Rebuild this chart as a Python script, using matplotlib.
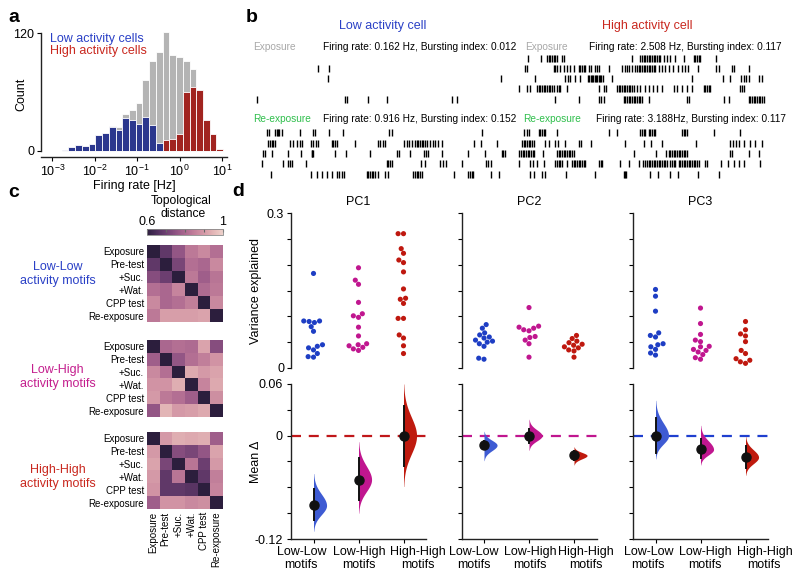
import numpy as np
import pandas as pd
import matplotlib
matplotlib.use('Agg')
import matplotlib.pyplot as plt
from matplotlib.ticker import NullLocator
import seaborn as sns

plt.rcParams['font.family'] = ['Liberation Sans', 'DejaVu Sans']
plt.rcParams['mathtext.fontset'] = 'custom'
plt.rcParams['mathtext.rm'] = 'Liberation Sans'
plt.rcParams['axes.linewidth'] = 1.0
plt.rcParams['axes.edgecolor'] = '#222222'

# ---------------- data ----------------
# a: firing rate histogram (log10 bin edges, counts)
log_edges = np.linspace(-2.78, 1.03, 25)
hist_total = [1, 4, 6, 5, 7, 16, 18, 25, 24, 38, 42, 49, 72, 92, 101, 121, 98, 96, 92, 83, 62, 32, 17, 2]
hist_low = [1, 4, 6, 5, 7, 16, 18, 24, 21, 34, 32, 27, 35, 26, 8, 0, 0, 0, 0, 0, 0, 0, 0, 0]
hist_high = [0, 0, 0, 0, 0, 0, 0, 0, 0, 0, 0, 0, 0, 0, 0, 11, 12, 17, 60, 65, 62, 32, 17, 2]

# b: spike rasters (time in 0.1 s units), 5 trials per session
low_exposure = [
    [],
    [205, 237],
    [235, 752],
    [],
    [22, 285, 292, 355, 412, 605, 622],
]
low_reexposure = [
    [52, 57, 76, 80, 84, 88, 95, 150, 188, 194, 238, 278, 416, 427, 697],
    [55, 60, 65, 70, 75, 120, 130, 142, 150, 157, 183, 190, 197, 203, 245, 250, 255, 260, 315,
     383, 390, 398, 405, 462, 470, 478, 486, 494, 500, 505, 510, 515, 520, 525, 530, 540, 548,
     555, 565, 577, 672, 693, 742],
    [38, 45, 65, 115, 152, 185, 187, 190, 255, 288, 360, 440, 447, 480, 522, 528, 535, 575, 655,
     705, 755, 760, 765],
    [35, 98, 115, 120, 125, 168, 410, 415, 420, 425, 512, 525, 570, 580, 587, 635, 708, 715, 722],
    [62, 182, 200, 215, 230, 245, 262, 268, 275, 282, 350, 355, 360, 365, 370, 375, 385, 405, 415,
     490, 495, 500, 505, 510, 515, 612, 655, 660, 665, 670, 722, 748],
]
high_exposure = [
    [48, 88, 105, 110, 115, 120, 125, 130, 135, 150, 155, 360, 385, 390, 395, 400, 405, 410, 415,
     420, 425, 430, 435, 440, 445, 455, 465, 475, 490, 515, 545, 550, 555, 560, 565, 612],
    [38, 45, 125, 130, 135, 145, 155, 165, 175, 185, 200, 205, 210, 215, 220, 232, 237, 248, 255,
     262, 290, 330, 338, 345, 352, 360, 368, 375, 380, 385, 390, 395, 400, 405, 410, 415, 420,
     425, 430, 440, 450, 460, 470, 483, 497, 510, 520, 527, 557, 612, 622, 660, 665, 710],
    [70, 160, 168, 175, 188, 205, 228, 232, 236, 240, 244, 248, 252, 256, 260, 264, 268, 272, 300,
     540, 632, 655, 688, 695, 702, 710, 740, 750],
    [22, 45, 55, 75, 80, 85, 90, 95, 100, 105, 110, 115, 120, 125, 135, 140, 145, 165, 262, 275,
     282, 315, 320, 325, 330, 335, 340, 345, 350, 355, 360, 365, 375, 385, 400, 410, 423, 435,
     450, 487, 495, 510, 525, 540, 575, 580, 585, 590, 595, 683, 690, 697],
    [128, 200, 262, 268, 275, 335, 340, 345, 350, 355, 360, 365, 370, 375, 380, 385, 390, 410,
     525, 530, 635, 650, 710, 715, 720, 725, 730, 735, 740, 745, 750, 755],
]
high_reexposure = [
    [35, 45, 52, 80, 85, 90, 95, 100, 135, 290, 315, 385, 390, 395, 400, 410, 415, 420, 425, 430,
     510, 515, 520, 525, 605, 685],
    [30, 35, 40, 45, 50, 55, 60, 65, 100, 110, 130, 138, 160, 200, 207, 238, 340, 397, 418, 450,
     553, 655, 663, 672, 680, 695, 715, 730, 750],
    [22, 27, 32, 37, 42, 47, 52, 57, 62, 67, 92, 135, 140, 145, 150, 155, 160, 165, 170, 175, 180,
     185, 365, 432, 462, 470, 475, 480, 485, 490, 495, 500, 505, 510, 515, 520, 525, 655, 660,
     710, 740],
    [20, 55, 62, 75, 95, 130, 135, 140, 145, 150, 165, 180, 185, 190, 195, 200, 205, 210, 215, 220,
     262, 266, 270, 325, 350, 380, 392, 398, 404, 410, 415, 420, 425, 430, 435, 440, 445, 450,
     455, 460, 465, 475, 480, 485, 490, 500, 505, 510, 515, 520, 525, 530, 535, 540, 545, 550,
     555, 560, 578, 585, 628, 648, 665, 680, 695, 745],
    [55, 65, 90, 100, 162, 250, 335, 338, 342, 415, 438, 475, 498, 558, 622],
]

# c: topological distance matrices
sessions = ['Exposure', 'Pre-test', '+Suc.', '+Wat.', 'CPP test', 'Re-exposure']
dist_low_low = [
    [0.60, 0.68, 0.76, 0.84, 0.87, 0.82],
    [0.68, 0.60, 0.72, 0.82, 0.80, 0.87],
    [0.74, 0.70, 0.60, 0.84, 0.78, 0.83],
    [0.82, 0.80, 0.86, 0.60, 0.81, 0.84],
    [0.87, 0.80, 0.82, 0.85, 0.60, 0.87],
    [0.84, 0.91, 0.91, 0.91, 0.92, 0.60],
]
dist_low_high = [
    [0.60, 0.80, 0.82, 0.81, 0.92, 0.74],
    [0.78, 0.60, 0.76, 0.82, 0.85, 0.89],
    [0.87, 0.82, 0.60, 0.93, 0.90, 0.92],
    [0.89, 0.89, 0.94, 0.60, 0.86, 0.93],
    [0.90, 0.84, 0.82, 0.78, 0.60, 0.88],
    [0.76, 0.95, 0.90, 0.91, 0.93, 0.60],
]
dist_high_high = [
    [0.60, 0.90, 0.94, 0.93, 0.94, 0.78],
    [0.90, 0.60, 0.74, 0.72, 0.76, 0.92],
    [0.92, 0.72, 0.60, 0.83, 0.70, 0.90],
    [0.90, 0.68, 0.83, 0.60, 0.68, 0.85],
    [0.89, 0.68, 0.68, 0.67, 0.60, 0.86],
    [0.78, 0.89, 0.89, 0.87, 0.88, 0.60],
]

# d: variance explained per motif group
groups = ['Low-Low', 'Low-High', 'High-High']
var_pc1_ll = [0.183, 0.091, 0.091, 0.090, 0.088, 0.080, 0.071, 0.045, 0.042, 0.039, 0.035, 0.028, 0.022, 0.021]
var_pc1_lh = [0.194, 0.170, 0.162, 0.127, 0.105, 0.101, 0.098, 0.079, 0.062, 0.047, 0.045, 0.043, 0.040, 0.037, 0.034]
var_pc1_hh = [0.260, 0.260, 0.231, 0.222, 0.209, 0.204, 0.186, 0.153, 0.135, 0.133, 0.125, 0.096, 0.096,
              0.064, 0.058, 0.043, 0.028]
var_pc2_ll = [0.084, 0.077, 0.068, 0.064, 0.060, 0.058, 0.054, 0.052, 0.050, 0.047, 0.042, 0.019, 0.017]
var_pc2_lh = [0.117, 0.081, 0.079, 0.077, 0.074, 0.072, 0.061, 0.059, 0.054, 0.047, 0.021]
var_pc2_hh = [0.063, 0.057, 0.052, 0.049, 0.046, 0.044, 0.041, 0.039, 0.035, 0.033, 0.021]
var_pc3_ll = [0.152, 0.139, 0.110, 0.068, 0.063, 0.060, 0.047, 0.045, 0.041, 0.036, 0.029, 0.025]
var_pc3_lh = [0.116, 0.086, 0.065, 0.054, 0.051, 0.042, 0.041, 0.036, 0.034, 0.031, 0.026, 0.020, 0.017]
var_pc3_hh = [0.090, 0.074, 0.066, 0.062, 0.051, 0.034, 0.028, 0.018, 0.015, 0.012, 0.009]

# d: mean difference (mean, ci low, ci high, dist low, dist high)
delta_pc1 = [(-0.081, -0.098, -0.062, -0.111, -0.044),
             (-0.051, -0.075, -0.026, -0.090, -0.007),
             (0.000, -0.035, 0.035, -0.059, 0.060)]
delta_pc2 = [(-0.011, -0.016, -0.006, -0.029, 0.005),
             (0.000, -0.008, 0.008, -0.017, 0.019),
             (-0.023, -0.028, -0.018, -0.034, -0.013)]
delta_pc3 = [(0.000, -0.020, 0.020, -0.027, 0.041),
             (-0.016, -0.026, -0.004, -0.034, 0.012),
             (-0.025, -0.037, -0.012, -0.046, -0.001)]

# ---------------- figure ----------------
W, H = 800, 581
fig = plt.figure(figsize=(W / 100, H / 100), dpi=100)


def px_axes(l, t, r, b):
    return fig.add_axes([l / W, 1 - b / H, (r - l) / W, (b - t) / H])


def ftext(x, y, s, **kw):
    return fig.text(x / W, 1 - y / H, s, **kw)


BLUE_T = '#2a40c6'
MAG_T = '#c41f8e'
RED_T = '#c9281f'
GREEN = '#2fbf4c'
GRAY_T = '#a8a8a8'

# panel letters
for letter, x, y in [('a', 8, 22), ('b', 246, 22), ('c', 8, 197), ('d', 232, 196)]:
    ftext(x, y, letter, fontsize=14, fontweight='bold', va='baseline')

# ---- a ----
ax = px_axes(41, 33, 227, 151)
edges = 10 ** log_edges
widths = edges[1:] - edges[:-1]
ax.bar(edges[:-1], hist_total, width=widths, align='edge', color='#b4b4b4', edgecolor='white', linewidth=0.6,
       clip_on=False)
ax.bar(edges[:-1], hist_low, width=widths, align='edge', color='#2b378e', edgecolor='white', linewidth=0.6)
ax.bar(edges[:-1], hist_high, width=widths, align='edge', color='#a12420', edgecolor='white', linewidth=0.6)
ax.set_xscale('log')
ax.set_xlim(10 ** -3.27, 10 ** 1.12)
ax.set_ylim(0, 120)
ax.set_xticks([1e-3, 1e-2, 1e-1, 1, 10])
ax.xaxis.set_minor_locator(NullLocator())
ax.set_yticks([0, 120])
ax.spines[['top', 'right']].set_visible(False)
ax.spines['bottom'].set_position(('outward', 4))
ax.tick_params(labelsize=9, length=3, pad=2)
ax.set_xlabel('Firing rate [Hz]', fontsize=9, labelpad=1)
ax.set_ylabel('Count', fontsize=9)
ax.yaxis.set_label_coords(-0.075, 0.48)
ftext(50, 39, 'Low activity cells', fontsize=9, color=BLUE_T, va='center')
ftext(50, 51, 'High activity cells', fontsize=9, color=RED_T, va='center')

# ---- b ----
expo_rows = np.arange(5)
reexpo_rows = np.arange(5) + 7.3
for (l, r, tmax, expo, reexpo) in [(250, 525, 825, low_exposure, low_reexposure),
                                   (512, 777, 795, high_exposure, high_reexposure)]:
    axr = px_axes(l, 37, r, 185)
    axr.eventplot(expo + reexpo, lineoffsets=list(expo_rows) + list(reexpo_rows), linelengths=0.68,
                  colors='black', linewidths=1.0)
    axr.set_xlim(0, tmax)
    axr.set_ylim(12.37, -2.05)
    axr.axis('off')
    axr.patch.set_alpha(0)

ftext(383, 26, 'Low activity cell', fontsize=9, color=BLUE_T, ha='center', va='center')
ftext(647, 26, 'High activity cell', fontsize=9, color=RED_T, ha='center', va='center')
ftext(253, 47, 'Exposure', fontsize=7.3, color=GRAY_T, va='center')
ftext(323, 47, 'Firing rate: 0.162 Hz, Bursting index: 0.012', fontsize=7.3, va='center')
ftext(253, 119, 'Re-exposure', fontsize=7.3, color=GREEN, va='center')
ftext(323, 119, 'Firing rate: 0.916 Hz, Bursting index: 0.152', fontsize=7.3, va='center')
ftext(525, 47, 'Exposure', fontsize=7.3, color=GRAY_T, va='center')
ftext(589, 47, 'Firing rate: 2.508 Hz, Bursting index: 0.117', fontsize=7.3, va='center')
ftext(523, 119, 'Re-exposure', fontsize=7.3, color=GREEN, va='center')
ftext(596, 119, 'Firing rate: 3.188Hz, Bursting index: 0.117', fontsize=7.3, va='center')

# ---- c ----
cmap = sns.cubehelix_palette(as_cmap=True, reverse=True)
mats = [(dist_low_low, 245, 322, 'Low-Low\nactivity motifs', BLUE_T, 274),
        (dist_low_high, 340, 417, 'Low-High\nactivity motifs', MAG_T, 377),
        (dist_high_high, 432, 509, 'High-High\nactivity motifs', RED_T, 477)]
for k, (m, t, b, lab, col, ly) in enumerate(mats):
    axh = px_axes(146.7, t, 222.7, b)
    im = axh.imshow(np.array(m), cmap=cmap, vmin=0.6, vmax=1.0, aspect='auto', interpolation='nearest')
    for s in axh.spines.values():
        s.set_visible(False)
    axh.set_yticks(range(6))
    axh.set_yticklabels(sessions, fontsize=7)
    axh.tick_params(length=0, pad=2)
    if k == 2:
        axh.set_xticks(range(6))
        axh.set_xticklabels(sessions, fontsize=7, rotation=90)
    else:
        axh.set_xticks([])
    ftext(57.5, ly, lab, fontsize=9, color=col, ha='center', va='center', linespacing=1.15)

cax = px_axes(146.7, 229, 222.7, 235)
cb = fig.colorbar(im, cax=cax, orientation='horizontal')
cax.xaxis.set_ticks_position('top')
cb.set_ticks([0.6, 0.7, 0.8, 0.9, 1.0])
cb.set_ticklabels(['0.6', '', '', '', '1'])
cax.tick_params(labelsize=9, length=2, direction='in', pad=1, color='#666666')
cb.outline.set_edgecolor('#888888')
cb.outline.set_linewidth(0.6)
ftext(181, 201, 'Topological', fontsize=8.7, ha='center', va='center')
ftext(183, 214, 'distance', fontsize=8.7, ha='center', va='center')

# ---- d ----
dot_cols = {'Low-Low': '#1e3ec4', 'Low-High': '#c0168f', 'High-High': '#bf180f'}
vio_cols = ['#3e5bd3', '#c0168f', '#bf1a0e']
line_cols = ['#c0171a', '#c0168f', '#1f3fcf']
var_sets = [(var_pc1_ll, var_pc1_lh, var_pc1_hh),
            (var_pc2_ll, var_pc2_lh, var_pc2_hh),
            (var_pc3_ll, var_pc3_lh, var_pc3_hh)]
deltas = [delta_pc1, delta_pc2, delta_pc3]
lefts = [291, 461.5, 633]
# where the category labels sit (shifted apart so they do not collide)
label_x = [(-0.27, 1.02, 2.33), (-0.22, 1.02, 2.26), (-0.16, 1.1, 2.42)]

for p in range(3):
    l = lefts[p]
    # top: variance explained
    axt = px_axes(l, 213, l + 135, 368)
    df = pd.DataFrame({
        'group': sum([[g] * len(v) for g, v in zip(groups, var_sets[p])], []),
        'value': sum([list(v) for v in var_sets[p]], []),
    })
    sns.swarmplot(data=df, x='group', y='value', hue='group', order=groups, palette=dot_cols,
                  size=3.7, linewidth=0, legend=False, ax=axt)
    axt.set_xlim(-0.5, 2.5)
    axt.set_ylim(0, 0.3)
    axt.set_xlabel('')
    axt.set_ylabel('')
    axt.set_xticks([])
    axt.spines[['top', 'right', 'bottom']].set_visible(False)
    axt.set_yticks(np.linspace(0, 0.3, 7))
    axt.tick_params(length=3, labelsize=9, pad=2)
    axt.set_title('PC%d' % (p + 1), fontsize=9, pad=6)

    # bottom: mean difference
    axb = px_axes(l, 384, l + 135, 539)
    axb.axhline(0, color=line_cols[p], lw=1.6, dashes=(4.5, 3.5), zorder=1)
    for i, (mu, clo, chi, dlo, dhi) in enumerate(deltas[p]):
        y = np.linspace(dlo, dhi, 200)
        s = np.where(y >= mu, (dhi - mu) / 2.8, (mu - dlo) / 2.8)
        dens = np.exp(-0.5 * ((y - mu) / s) ** 2)
        axb.fill_betweenx(y, i, i + 0.29 * dens, color=vio_cols[i], lw=0, zorder=2)
        axb.plot([i, i], [clo, chi], color='#111111', lw=1.4, zorder=3)
        axb.plot(i, mu, 'o', color='#111111', ms=6.5, zorder=4)
    axb.set_xlim(-0.5, 2.5)
    axb.set_ylim(-0.12, 0.06)
    axb.spines[['top', 'right']].set_visible(False)
    axb.set_yticks([-0.12, -0.09, -0.06, -0.03, 0, 0.03, 0.06])
    axb.set_xticks(range(3))
    axb.set_xticklabels([])
    axb.tick_params(length=3, labelsize=9, pad=3)
    for g, xl in zip(groups, label_x[p]):
        axb.annotate(g + '\nmotifs', xy=(xl, 0), xycoords=('data', 'axes fraction'),
                     xytext=(0, -5), textcoords='offset points', ha='center', va='top',
                     fontsize=9, linespacing=1.1, annotation_clip=False)

    if p == 0:
        axt.set_yticklabels(['0', '', '', '', '', '', '0.3'])
        axt.set_ylabel('Variance explained', fontsize=9)
        axt.yaxis.set_label_coords(-0.215, 0.5)
        axb.set_yticklabels(['-0.12', '', '', '', '0', '', '0.06'])
        axb.set_ylabel('Mean \u0394', fontsize=9)
        axb.yaxis.set_label_coords(-0.215, 0.5)
    else:
        axt.set_yticklabels([])
        axb.set_yticklabels([])

fig.savefig('out.png', dpi=100)
